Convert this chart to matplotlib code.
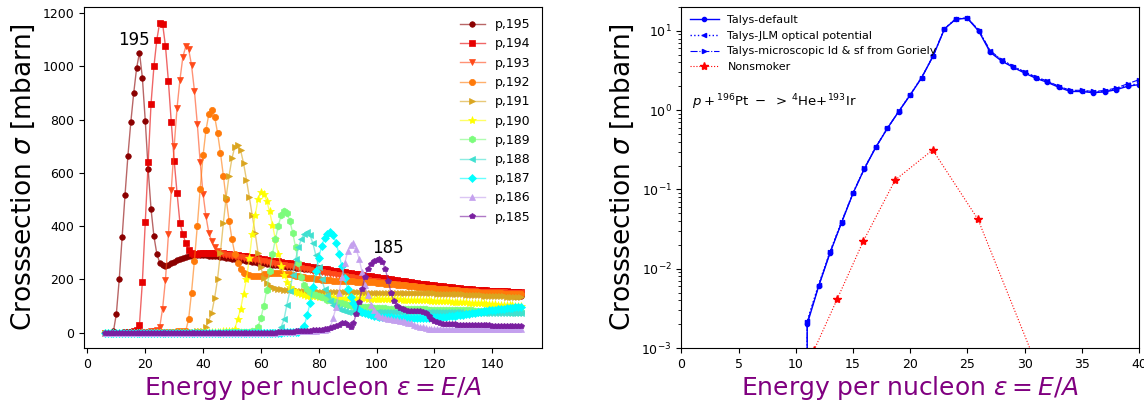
import matplotlib
matplotlib.use('Agg')
import matplotlib.pyplot as plt
from matplotlib.colors import to_rgba

# ---- left panel: p + A -> alpha + X, cross sections in mbarn on a 1 MeV grid ----
energy = list(range(6, 151))

sigma_195 = [
    0, 0, 0, 5, 70, 200, 360, 517, 664, 790,
    899, 993, 1052, 958, 796, 614, 464, 361, 296, 262,
    252, 250, 254, 260, 266, 272, 277, 281, 284, 287,
    289, 290, 291, 291, 291, 290, 289, 288, 287, 286,
    284, 283, 281, 280, 278, 276, 275, 273, 271, 270,
    268, 266, 265, 263, 262, 260, 258, 257, 255, 254,
    252, 251, 250, 248, 247, 246, 244, 243, 242, 240,
    239, 238, 236, 235, 234, 232, 231, 230, 228, 227,
    226, 224, 223, 222, 220, 219, 217, 216, 214, 213,
    211, 210, 208, 207, 205, 204, 202, 201, 199, 198,
    196, 195, 193, 192, 190, 189, 187, 186, 184, 183,
    181, 180, 178, 177, 175, 174, 172, 171, 169, 168,
    166, 165, 163, 162, 160, 159, 157, 156, 154, 153,
    151, 150, 149, 148, 147, 146, 145, 144, 143, 142,
    141, 140, 139, 139, 138]

sigma_194 = [
    0, 0, 0, 0, 0, 0, 0, 1, 2, 3,
    5, 10, 30, 190, 415, 640, 860, 1000, 1100, 1165,
    1160, 1075, 945, 790, 646, 524, 411, 370, 336, 310,
    300, 296, 296, 297, 298, 299, 300, 300, 300, 299,
    298, 297, 296, 295, 293, 292, 290, 289, 287, 286,
    284, 282, 281, 279, 277, 276, 274, 272, 270, 269,
    267, 265, 263, 262, 260, 258, 256, 255, 253, 251,
    249, 248, 246, 244, 242, 240, 239, 237, 235, 233,
    231, 230, 228, 226, 225, 223, 221, 219, 218, 216,
    214, 213, 211, 209, 208, 206, 204, 203, 201, 200,
    198, 196, 195, 193, 192, 190, 189, 187, 186, 184,
    183, 181, 180, 179, 177, 176, 175, 173, 172, 171,
    170, 168, 167, 166, 165, 164, 163, 162, 161, 160,
    159, 158, 158, 157, 157, 156, 156, 155, 155, 155,
    154, 154, 154, 153, 153]

sigma_193 = [
    0, 0, 0, 0, 0, 0, 0, 0, 0, 0,
    0, 0, 0, 1, 2, 3, 5, 6, 8, 20,
    90, 199, 370, 536, 700, 845, 950, 1035, 1075, 1065,
    1005, 909, 784, 640, 520, 436, 374, 343, 320, 305,
    298, 294, 292, 290, 289, 287, 285, 283, 281, 279,
    277, 275, 273, 271, 269, 267, 265, 263, 261, 259,
    257, 255, 253, 251, 249, 247, 245, 243, 241, 239,
    237, 235, 233, 231, 229, 227, 225, 223, 221, 219,
    217, 215, 213, 211, 209, 207, 205, 204, 202, 200,
    198, 197, 195, 193, 192, 190, 188, 187, 185, 184,
    182, 181, 179, 178, 177, 175, 174, 173, 171, 170,
    169, 168, 167, 166, 165, 164, 163, 162, 161, 160,
    159, 159, 158, 157, 157, 156, 156, 155, 155, 154,
    154, 153, 153, 152, 152, 152, 151, 151, 151, 150,
    150, 150, 149, 149, 149]

sigma_192 = [
    0, 0, 0, 0, 0, 0, 0, 0, 0, 0,
    0, 0, 0, 0, 0, 0, 0, 0, 1, 1,
    1, 2, 2, 3, 3, 4, 4, 5, 6, 50,
    150, 270, 400, 540, 666, 761, 821, 836, 811, 751,
    676, 590, 500, 420, 350, 295, 260, 238, 225, 218,
    216, 213, 211, 212, 214, 218, 221, 223, 224, 224,
    223, 222, 221, 220, 218, 216, 214, 212, 210, 208,
    206, 204, 203, 201, 200, 199, 198, 197, 196, 195,
    195, 194, 194, 193, 193, 192, 192, 191, 191, 190,
    190, 189, 189, 188, 187, 186, 185, 184, 183, 182,
    181, 180, 179, 178, 177, 175, 174, 173, 172, 171,
    170, 169, 168, 167, 166, 165, 164, 163, 162, 161,
    160, 159, 158, 157, 156, 155, 154, 153, 152, 151,
    150, 150, 149, 149, 148, 148, 147, 147, 146, 146,
    145, 145, 145, 144, 144]

sigma_191 = [
    0, 0, 0, 0, 0, 0, 0, 0, 0, 0,
    0, 0, 0, 0, 0, 0, 0, 0, 0, 0,
    0, 0, 0, 0, 1, 1, 1, 2, 2, 2,
    3, 3, 4, 4, 5, 20, 45, 75, 130, 200,
    300, 410, 511, 590, 655, 699, 705, 684, 636, 574,
    509, 440, 375, 300, 245, 205, 186, 176, 170, 166,
    164, 162, 161, 160, 159, 158, 158, 157, 157, 156,
    156, 155, 155, 155, 154, 154, 154, 153, 153, 153,
    153, 152, 152, 152, 152, 151, 151, 151, 151, 150,
    150, 150, 150, 150, 150, 149, 149, 149, 149, 149,
    149, 149, 149, 148, 148, 148, 148, 148, 148, 148,
    148, 147, 147, 147, 147, 146, 146, 146, 145, 145,
    145, 144, 144, 143, 143, 142, 142, 141, 141, 140,
    140, 139, 139, 138, 138, 137, 137, 136, 136, 135,
    135, 135, 134, 134, 134]

sigma_190 = [
    0, 0, 0, 0, 0, 0, 0, 0, 0, 0,
    0, 0, 0, 0, 0, 0, 0, 0, 0, 0,
    0, 0, 0, 0, 0, 0, 0, 0, 0, 0,
    0, 0, 1, 1, 1, 1, 2, 2, 2, 3,
    3, 4, 4, 5, 6, 15, 50, 90, 145, 200,
    280, 370, 440, 500, 528, 520, 495, 455, 405, 350,
    295, 250, 215, 190, 172, 160, 152, 147, 143, 140,
    139, 138, 137, 136, 135, 134, 133, 133, 132, 132,
    131, 131, 130, 130, 130, 129, 129, 129, 128, 128,
    128, 127, 127, 127, 127, 126, 126, 126, 126, 125,
    125, 125, 125, 124, 124, 124, 123, 123, 123, 122,
    122, 121, 121, 120, 120, 119, 119, 118, 117, 117,
    116, 116, 115, 114, 114, 113, 112, 112, 111, 110,
    110, 109, 108, 108, 107, 106, 105, 105, 104, 103,
    103, 102, 101, 101, 100]

sigma_189 = [
    0, 0, 0, 0, 0, 0, 0, 0, 0, 0,
    0, 0, 0, 0, 0, 0, 0, 0, 0, 0,
    0, 0, 0, 0, 0, 0, 0, 0, 0, 0,
    0, 0, 0, 0, 0, 0, 0, 0, 0, 0,
    0, 0, 1, 1, 1, 1, 2, 2, 2, 3,
    3, 4, 5, 20, 55, 100, 160, 230, 295, 350,
    400, 440, 457, 450, 420, 375, 320, 260, 210, 180,
    162, 152, 145, 140, 136, 132, 128, 124, 121, 118,
    115, 112, 109, 107, 105, 103, 101, 99, 98, 97,
    96, 95, 94, 93, 92, 92, 91, 91, 90, 90,
    90, 89, 89, 89, 88, 88, 88, 88, 87, 87,
    87, 87, 86, 86, 86, 86, 86, 85, 85, 85,
    85, 84, 84, 84, 84, 83, 83, 83, 82, 82,
    82, 81, 81, 81, 80, 80, 80, 79, 79, 79,
    78, 78, 78, 77, 77]

sigma_188 = [
    0, 0, 0, 0, 0, 0, 0, 0, 0, 0,
    0, 0, 0, 0, 0, 0, 0, 0, 0, 0,
    0, 0, 0, 0, 0, 0, 0, 0, 0, 0,
    0, 0, 0, 0, 0, 0, 0, 0, 0, 0,
    0, 0, 0, 0, 0, 0, 0, 0, 0, 0,
    0, 1, 1, 1, 1, 2, 2, 2, 3, 3,
    5, 20, 50, 105, 155, 215, 275, 320, 352, 370,
    377, 365, 335, 290, 245, 200, 165, 140, 120, 105,
    95, 88, 83, 80, 78, 77, 76, 76, 75, 75,
    75, 75, 75, 75, 76, 76, 76, 77, 77, 77,
    77, 78, 78, 78, 78, 78, 78, 78, 78, 78,
    78, 78, 78, 78, 77, 77, 77, 77, 77, 76,
    76, 76, 76, 76, 75, 75, 75, 75, 75, 75,
    74, 74, 74, 74, 74, 74, 74, 74, 74, 74,
    74, 74, 74, 74, 74]

sigma_187 = [
    0, 0, 0, 0, 0, 0, 0, 0, 0, 0,
    0, 0, 0, 0, 0, 0, 0, 0, 0, 0,
    0, 0, 0, 0, 0, 0, 0, 0, 0, 0,
    0, 0, 0, 0, 0, 0, 0, 0, 0, 0,
    0, 0, 0, 0, 0, 0, 0, 0, 0, 0,
    0, 0, 0, 0, 0, 0, 0, 0, 0, 0,
    0, 0, 1, 1, 1, 2, 2, 3, 10, 25,
    65, 110, 170, 230, 280, 325, 355, 372, 378, 365,
    338, 295, 250, 205, 165, 135, 112, 96, 85, 77,
    72, 68, 65, 63, 61, 60, 59, 58, 57, 57,
    56, 56, 56, 55, 55, 55, 55, 55, 55, 55,
    56, 56, 56, 57, 57, 58, 58, 59, 60, 61,
    62, 63, 64, 66, 67, 69, 70, 72, 74, 76,
    78, 79, 81, 83, 84, 86, 87, 89, 90, 91,
    92, 93, 94, 95, 95]

sigma_186 = [
    0, 0, 0, 0, 0, 0, 0, 0, 0, 0,
    0, 0, 0, 0, 0, 0, 0, 0, 0, 0,
    0, 0, 0, 0, 0, 0, 0, 0, 0, 0,
    0, 0, 0, 0, 0, 0, 0, 0, 0, 0,
    0, 0, 0, 0, 0, 0, 0, 0, 0, 0,
    0, 0, 0, 0, 0, 0, 0, 0, 0, 0,
    1, 1, 2, 2, 3, 3, 4, 4, 5, 5,
    6, 6, 7, 7, 8, 9, 10, 12, 20, 55,
    95, 150, 210, 260, 305, 330, 336, 312, 275, 228,
    180, 140, 105, 85, 70, 62, 58, 55, 52, 50,
    48, 46, 44, 42, 40, 37, 34, 30, 26, 22,
    19, 17, 15, 14, 13, 13, 12, 12, 12, 12,
    12, 12, 12, 12, 12, 12, 12, 12, 13, 13,
    13, 13, 13, 13, 13, 14, 14, 14, 14, 14,
    14, 14, 15, 15, 15]

sigma_185 = [
    0, 0, 0, 0, 0, 0, 0, 0, 0, 0,
    0, 0, 0, 0, 0, 0, 0, 0, 0, 0,
    0, 0, 0, 0, 0, 0, 0, 0, 0, 0,
    0, 0, 0, 0, 0, 0, 0, 0, 0, 0,
    0, 0, 0, 0, 0, 0, 0, 0, 0, 0,
    0, 0, 0, 0, 0, 0, 0, 0, 0, 0,
    1, 1, 2, 2, 3, 3, 4, 4, 5, 5,
    6, 7, 8, 9, 10, 11, 12, 14, 16, 19,
    24, 30, 34, 35, 30, 22, 35, 70, 115, 165,
    210, 240, 258, 268, 273, 275, 265, 240, 195, 150,
    118, 100, 92, 87, 84, 82, 81, 80, 80, 80,
    78, 72, 62, 52, 44, 38, 35, 33, 32, 32,
    31, 31, 30, 30, 30, 29, 29, 29, 28, 28,
    28, 27, 27, 27, 26, 26, 26, 26, 25, 25,
    25, 25, 24, 24, 24]

labels = ['p,195', 'p,194', 'p,193', 'p,192', 'p,191', 'p,190',
          'p,189', 'p,188', 'p,187', 'p,186', 'p,185']

# ---- right panel: p + 196Pt -> 4He + 193Ir ----
talys_energy = [10, 11, 12, 13, 14, 15, 16, 17, 18, 19, 20, 21, 22, 23, 24, 25,
                26, 27, 28, 29, 30, 31, 32, 33, 34, 35, 36, 37, 38, 39, 40]
talys_default = [0, 2.0e-3, 6.0e-3, 0.0159, 0.038, 0.089, 0.183, 0.34, 0.587, 0.96,
                 1.55, 2.56, 4.79, 10.6, 14.1, 14.4, 9.9, 5.36, 4.16, 3.47, 2.94,
                 2.52, 2.24, 1.94, 1.72, 1.72, 1.66, 1.70, 1.81, 2.0, 2.1]
talys_jlm = [0, 2.2e-3, 6.3e-3, 0.0165, 0.039, 0.090, 0.185, 0.345, 0.59, 0.97,
             1.56, 2.58, 4.82, 10.7, 14.2, 14.5, 10.1, 5.5, 4.25, 3.55, 3.0,
             2.58, 2.3, 1.98, 1.75, 1.75, 1.69, 1.73, 1.85, 2.05, 2.15]
talys_micro = [0, 2.1e-3, 6.1e-3, 0.0161, 0.0385, 0.0895, 0.184, 0.342, 0.588, 0.965,
               1.555, 2.57, 4.8, 10.65, 14.15, 14.45, 10.2, 5.6, 4.35, 3.6, 3.05,
               2.62, 2.33, 2.0, 1.78, 1.78, 1.72, 1.77, 1.9, 2.15, 2.42]
nonsmoker_energy = [11.6, 13.64, 15.92, 18.69, 21.97, 25.93, 30.8]
nonsmoker_sigma = [9.4e-4, 4.2e-3, 0.0225, 0.1315, 0.315, 0.0419, 7.5e-4]

# ---- style ----
series = [sigma_195, sigma_194, sigma_193, sigma_192, sigma_191, sigma_190,
          sigma_189, sigma_188, sigma_187, sigma_186, sigma_185]
colors = ['#8B0000', '#E60000', '#FF4A1A', '#FF7A0A', '#DAA520', '#FFFF00',
          '#7CFC7C', '#40E0D0', '#00FFFF', '#C4A0EE', '#7A1FA0']
markers = ['o', 's', 'v', 'o', '>', '*', 'h', '<', 'D', '^', 'p']
msizes = [4, 4.5, 5, 4.5, 5, 6, 5, 5, 4, 5, 4]

LABEL_COLOR = '#800080'
xlabel = r'Energy per nucleon $\varepsilon = E/A$'
ylabel = r'Crosssection $\sigma$ [mbarn]'

fig = plt.figure(figsize=(11.44, 4.0), dpi=100)
fig.patch.set_facecolor('white')

ax1 = fig.add_axes([0.0734, 0.13, 0.4003, 0.8525])
for y, lab, c, m, ms in zip(series, labels, colors, markers, msizes):
    ax1.plot(energy, y, marker=m, markersize=ms, linewidth=1.0,
             color=to_rgba(c, 0.6), markerfacecolor=c, markeredgecolor=c,
             markeredgewidth=0.5, label=lab)

ax1.set_xticks([0, 20, 40, 60, 80, 100, 120, 140])
ax1.set_yticks([0, 200, 400, 600, 800, 1000, 1200])
ax1.tick_params(labelsize=9)
ax1.set_xlabel(xlabel, fontsize=18, color=LABEL_COLOR, labelpad=2)
ax1.set_ylabel(ylabel, fontsize=19)
ax1.text(10.7, 1080, '195', fontsize=12)
ax1.text(98.4, 300, '185', fontsize=12)
ax1.legend(loc='upper right', frameon=False, fontsize=9)

ax2 = fig.add_axes([0.5956, 0.13, 0.4000, 0.8525])
ax2.plot(talys_energy, talys_default, '-', marker='.', markersize=6, color='blue',
         linewidth=1.0, label='Talys-default')
ax2.plot(talys_energy, talys_jlm, ':', marker='<', markersize=3, color='blue',
         linewidth=1.0, label='Talys-JLM optical potential')
ax2.plot(talys_energy, talys_micro, '-.', marker='>', markersize=3, color='blue',
         linewidth=0.8, label='Talys-microscopic ld & sf from Goriely')
ax2.plot(nonsmoker_energy, nonsmoker_sigma, ':', marker='*', markersize=6, color='red',
         linewidth=0.8, label='Nonsmoker')
ax2.set_yscale('log')
ax2.set_xlim(0, 40)
ax2.set_ylim(1e-3, 20)
ax2.set_xticks([0, 5, 10, 15, 20, 25, 30, 35, 40])
ax2.tick_params(labelsize=9)
ax2.set_xlabel(xlabel, fontsize=18, color=LABEL_COLOR, labelpad=2)
ax2.set_ylabel(ylabel, fontsize=19)
ax2.text(0.9, 1.25, r'$p+^{196}$Pt$\ -\ >\,^{4}$He$+^{193}$Ir', fontsize=9.5, va='center')
ax2.legend(loc='upper left', frameon=False, fontsize=8, borderaxespad=0.35,
           handlelength=2.6)

fig.savefig('out.png', dpi=100, facecolor='white')
